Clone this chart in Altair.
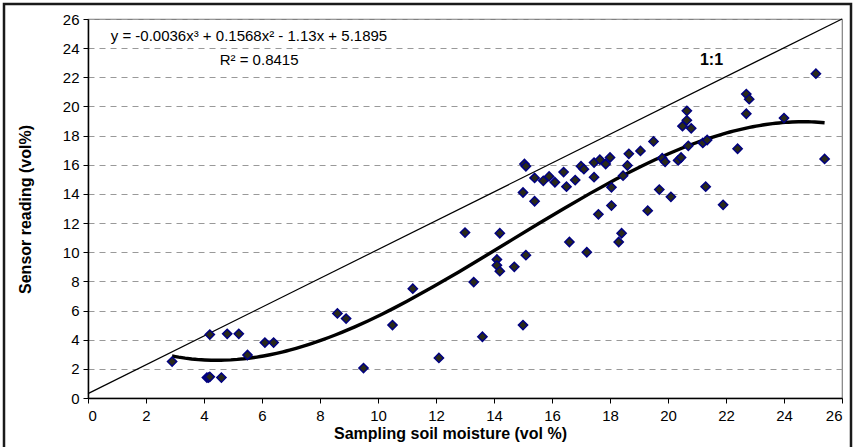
import altair as alt
import pandas as pd

# Sampling soil moisture (vol %) vs sensor reading (vol %)
moisture = [2.9, 4.1, 4.15, 4.2, 4.2, 4.6, 4.8, 5.2, 5.5, 6.1, 6.4, 8.6, 8.9, 9.5,
            10.5, 11.2, 12.1, 13.0, 13.3, 13.6, 14.1, 14.1, 14.2, 14.2, 14.7,
            15.0, 15.1, 15.0, 15.05, 15.1, 15.4, 15.4, 15.7, 15.9, 16.1, 16.4,
            16.5, 16.6, 16.8, 17.0, 17.1, 17.2, 17.45, 17.45, 17.6, 17.65, 17.85,
            18.0, 18.05, 18.05, 18.4, 18.3, 18.45, 18.6, 18.65, 19.05, 19.3, 19.5,
            19.7, 19.8, 19.9, 20.1, 20.35, 20.45, 20.5, 20.65, 20.65, 20.8, 20.7,
            21.2, 21.35, 21.3, 21.9, 22.4, 22.7, 22.8, 22.7, 24.0, 25.1, 25.4]
sensor = [2.5, 1.4, 1.4, 1.45, 4.35, 1.4, 4.4, 4.4, 2.95, 3.8, 3.8, 5.8, 5.45, 2.05,
          5.0, 7.5, 2.75, 11.35, 7.95, 4.2, 9.5, 9.1, 8.7, 11.3, 9.0,
          5.0, 9.8, 14.1, 16.05, 15.9, 13.5, 15.1, 14.9, 15.2, 14.8, 15.5,
          14.5, 10.7, 14.95, 15.9, 15.7, 10.0, 16.15, 15.15, 12.6, 16.35, 16.05,
          16.5, 14.45, 13.2, 11.3, 10.7, 15.25, 15.95, 16.75, 16.95, 12.85, 17.6,
          14.3, 16.45, 16.2, 13.8, 16.3, 16.5, 18.65, 19.7, 19.05, 18.5, 17.3,
          17.5, 17.7, 14.5, 13.25, 17.1, 20.85, 20.5, 19.5, 19.2, 22.25, 16.4]

# 1:1 reference line end points
ref_x = [0, 26]
ref_y = [0.3, 26]

# annotation texts and anchor positions (data units)
eq_text = ["y = -0.0036x\u00b3 + 0.1568x\u00b2 - 1.13x + 5.1895", "R\u00b2 = 0.8415"]
eq_x = [5.55, 5.9]
eq_y = [24.85, 23.2]
one_text = ["1:1"]
one_x = [21.5]
one_y = [23.2]

ticks = list(range(0, 27, 2))

pts = pd.DataFrame({"x": moisture, "y": sensor})
ref = pd.DataFrame({"x": ref_x, "y": ref_y})
eqs = pd.DataFrame({"t": eq_text, "x": eq_x, "y": eq_y})
ones = pd.DataFrame({"t": one_text, "x": one_x, "y": one_y})

FONT = "Liberation Sans"

xscale = alt.Scale(domain=[0, 26], nice=False, zero=False)
yscale = alt.Scale(domain=[0, 26], nice=False, zero=False)

xaxis = alt.Axis(values=ticks, grid=False, title="Sampling soil moisture (vol %)",
                 domainColor="black", domainWidth=1.5, tickColor="black", tickSize=5,
                 labelFontSize=15, labelFont=FONT, labelColor="black", labelPadding=5,
                 labelOverlap=False,
                 titleFont=FONT, titleFontSize=16, titleFontWeight="bold", titleColor="black",
                 titleX=362, titleY=35, titleBaseline="middle", titleAnchor="start",
                 titleAlign="center")
yaxis = alt.Axis(values=ticks, grid=True, gridColor="#999999", gridDash=[6, 5], gridWidth=1,
                 title="Sensor reading (vol%)", labelOverlap=False,
                 domainColor="black", domainWidth=1.5, tickColor="black", tickSize=5,
                 labelFontSize=15, labelFont=FONT, labelColor="black", labelPadding=4,
                 titleFont=FONT, titleFontSize=16, titleFontWeight="bold", titleColor="black",
                 titleX=-63, titleY=190, titleAngle=270, titleBaseline="middle",
                 titleAlign="center", titleAnchor="start")

X = alt.X("x:Q", scale=xscale, axis=xaxis)
Y = alt.Y("y:Q", scale=yscale, axis=yaxis)

base = alt.Chart(pts)

frame = alt.Chart(pd.DataFrame({"k": [0]})).mark_rect(
    fillOpacity=0, stroke="#1a1a1a", strokeWidth=2.5
).encode(x=alt.value(-84), x2=alt.value(763), y=alt.value(-15), y2=alt.value(445))

refline = alt.Chart(ref).mark_line(color="black", strokeWidth=1.2).encode(x=X, y=Y)

trend = base.transform_regression("x", "y", method="poly", order=3).mark_line(
    color="black", strokeWidth=3.4
).encode(x=X, y=Y)

points = base.mark_point(shape="diamond", filled=True, size=85, fill="#2a2a18",
                         stroke="#000080", strokeWidth=1.5, opacity=1).encode(x=X, y=Y)

eq_labels = alt.Chart(eqs).mark_text(font=FONT, fontSize=15, color="black").encode(
    x=X, y=Y, text="t:N"
)
one_label = alt.Chart(ones).mark_text(font=FONT, fontSize=16, fontWeight="bold",
                                      color="black").encode(x=X, y=Y, text="t:N")

chart = alt.layer(frame, refline, trend, points, eq_labels, one_label).properties(
    width=754, height=379,
    autosize=alt.AutoSizeParams(type="none"),
    padding={"left": 88, "top": 19, "right": 12, "bottom": 49},
    background="white",
).configure_view(stroke="#808080", strokeWidth=1.2)

chart.save("out.html", embed_options={"renderer": "svg", "actions": False})
